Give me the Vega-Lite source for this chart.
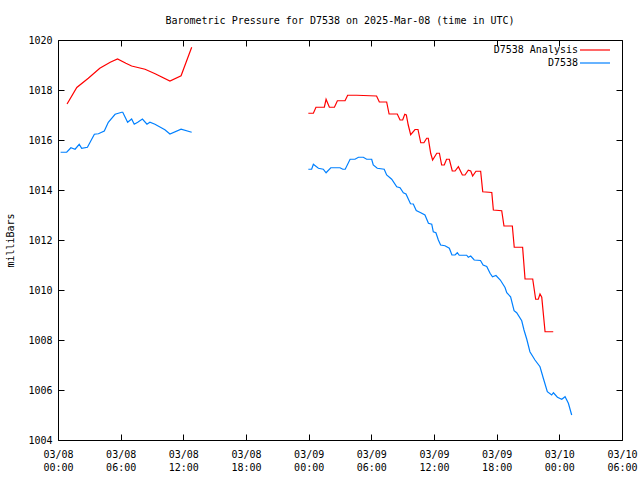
{
  "$schema": "https://vega.github.io/schema/vega-lite/v6.json",
  "width": 564,
  "height": 400,
  "autosize": {"type": "none"},
  "padding": {"left": 58, "top": 40, "right": 18, "bottom": 40},
  "background": "white",
  "title": {"text": "Barometric Pressure for D7538 on 2025-Mar-08 (time in UTC)", "font": "DejaVu Sans Mono", "fontSize": 10, "fontWeight": "normal", "color": "black", "offset": 9},
  "config": {
    "view": {"stroke": "black", "strokeWidth": 1},
    "axis": {"grid": false, "ticks": true, "tickOpacity": 1, "domainColor": "black", "tickColor": "black", "labelColor": "black", "labelFont": "DejaVu Sans Mono", "labelFontSize": 10, "titleFont": "DejaVu Sans Mono", "titleFontSize": 10, "titleFontWeight": "normal", "titleColor": "black", "domainWidth": 1, "tickWidth": 1}
  },
  "data": {"values": [
    {"series": "D7538 Analysis", "part": 1, "time": "2025-03-08T00:52:00Z", "pressure": 1017.44},
    {"series": "D7538 Analysis", "part": 1, "time": "2025-03-08T01:48:00Z", "pressure": 1018.1},
    {"series": "D7538 Analysis", "part": 1, "time": "2025-03-08T02:54:00Z", "pressure": 1018.47},
    {"series": "D7538 Analysis", "part": 1, "time": "2025-03-08T04:00:00Z", "pressure": 1018.87},
    {"series": "D7538 Analysis", "part": 1, "time": "2025-03-08T05:00:00Z", "pressure": 1019.11},
    {"series": "D7538 Analysis", "part": 1, "time": "2025-03-08T05:42:00Z", "pressure": 1019.24},
    {"series": "D7538 Analysis", "part": 1, "time": "2025-03-08T06:30:00Z", "pressure": 1019.07},
    {"series": "D7538 Analysis", "part": 1, "time": "2025-03-08T07:03:00Z", "pressure": 1018.96},
    {"series": "D7538 Analysis", "part": 1, "time": "2025-03-08T08:20:00Z", "pressure": 1018.83},
    {"series": "D7538 Analysis", "part": 1, "time": "2025-03-08T09:18:00Z", "pressure": 1018.65},
    {"series": "D7538 Analysis", "part": 1, "time": "2025-03-08T10:43:00Z", "pressure": 1018.36},
    {"series": "D7538 Analysis", "part": 1, "time": "2025-03-08T11:47:00Z", "pressure": 1018.57},
    {"series": "D7538 Analysis", "part": 1, "time": "2025-03-08T12:48:00Z", "pressure": 1019.71},
    {"series": "D7538 Analysis", "part": 2, "time": "2025-03-08T23:58:00Z", "pressure": 1017.07},
    {"series": "D7538 Analysis", "part": 2, "time": "2025-03-09T00:27:00Z", "pressure": 1017.07},
    {"series": "D7538 Analysis", "part": 2, "time": "2025-03-09T00:42:00Z", "pressure": 1017.31},
    {"series": "D7538 Analysis", "part": 2, "time": "2025-03-09T01:30:00Z", "pressure": 1017.31},
    {"series": "D7538 Analysis", "part": 2, "time": "2025-03-09T01:40:00Z", "pressure": 1017.63},
    {"series": "D7538 Analysis", "part": 2, "time": "2025-03-09T01:59:00Z", "pressure": 1017.31},
    {"series": "D7538 Analysis", "part": 2, "time": "2025-03-09T02:28:00Z", "pressure": 1017.31},
    {"series": "D7538 Analysis", "part": 2, "time": "2025-03-09T02:45:00Z", "pressure": 1017.57},
    {"series": "D7538 Analysis", "part": 2, "time": "2025-03-09T03:29:00Z", "pressure": 1017.57},
    {"series": "D7538 Analysis", "part": 2, "time": "2025-03-09T03:44:00Z", "pressure": 1017.79},
    {"series": "D7538 Analysis", "part": 2, "time": "2025-03-09T04:36:00Z", "pressure": 1017.79},
    {"series": "D7538 Analysis", "part": 2, "time": "2025-03-09T06:30:00Z", "pressure": 1017.76},
    {"series": "D7538 Analysis", "part": 2, "time": "2025-03-09T06:46:00Z", "pressure": 1017.52},
    {"series": "D7538 Analysis", "part": 2, "time": "2025-03-09T07:28:00Z", "pressure": 1017.52},
    {"series": "D7538 Analysis", "part": 2, "time": "2025-03-09T07:42:00Z", "pressure": 1017.04},
    {"series": "D7538 Analysis", "part": 2, "time": "2025-03-09T08:29:00Z", "pressure": 1017.04},
    {"series": "D7538 Analysis", "part": 2, "time": "2025-03-09T08:45:00Z", "pressure": 1016.8},
    {"series": "D7538 Analysis", "part": 2, "time": "2025-03-09T09:00:00Z", "pressure": 1016.8},
    {"series": "D7538 Analysis", "part": 2, "time": "2025-03-09T09:12:00Z", "pressure": 1017.03},
    {"series": "D7538 Analysis", "part": 2, "time": "2025-03-09T09:21:00Z", "pressure": 1017.0},
    {"series": "D7538 Analysis", "part": 2, "time": "2025-03-09T09:32:00Z", "pressure": 1016.6},
    {"series": "D7538 Analysis", "part": 2, "time": "2025-03-09T09:46:00Z", "pressure": 1016.21},
    {"series": "D7538 Analysis", "part": 2, "time": "2025-03-09T10:11:00Z", "pressure": 1016.42},
    {"series": "D7538 Analysis", "part": 2, "time": "2025-03-09T10:28:00Z", "pressure": 1016.42},
    {"series": "D7538 Analysis", "part": 2, "time": "2025-03-09T10:44:00Z", "pressure": 1015.89},
    {"series": "D7538 Analysis", "part": 2, "time": "2025-03-09T11:02:00Z", "pressure": 1015.89},
    {"series": "D7538 Analysis", "part": 2, "time": "2025-03-09T11:18:00Z", "pressure": 1016.07},
    {"series": "D7538 Analysis", "part": 2, "time": "2025-03-09T11:27:00Z", "pressure": 1016.07},
    {"series": "D7538 Analysis", "part": 2, "time": "2025-03-09T11:41:00Z", "pressure": 1015.47},
    {"series": "D7538 Analysis", "part": 2, "time": "2025-03-09T11:52:00Z", "pressure": 1015.2},
    {"series": "D7538 Analysis", "part": 2, "time": "2025-03-09T12:16:00Z", "pressure": 1015.47},
    {"series": "D7538 Analysis", "part": 2, "time": "2025-03-09T12:31:00Z", "pressure": 1015.47},
    {"series": "D7538 Analysis", "part": 2, "time": "2025-03-09T12:44:00Z", "pressure": 1015.0},
    {"series": "D7538 Analysis", "part": 2, "time": "2025-03-09T12:59:00Z", "pressure": 1015.0},
    {"series": "D7538 Analysis", "part": 2, "time": "2025-03-09T13:12:00Z", "pressure": 1015.23},
    {"series": "D7538 Analysis", "part": 2, "time": "2025-03-09T13:28:00Z", "pressure": 1015.23},
    {"series": "D7538 Analysis", "part": 2, "time": "2025-03-09T13:45:00Z", "pressure": 1014.76},
    {"series": "D7538 Analysis", "part": 2, "time": "2025-03-09T14:01:00Z", "pressure": 1014.76},
    {"series": "D7538 Analysis", "part": 2, "time": "2025-03-09T14:20:00Z", "pressure": 1014.93},
    {"series": "D7538 Analysis", "part": 2, "time": "2025-03-09T14:43:00Z", "pressure": 1014.6},
    {"series": "D7538 Analysis", "part": 2, "time": "2025-03-09T14:58:00Z", "pressure": 1014.6},
    {"series": "D7538 Analysis", "part": 2, "time": "2025-03-09T15:17:00Z", "pressure": 1014.79},
    {"series": "D7538 Analysis", "part": 2, "time": "2025-03-09T15:31:00Z", "pressure": 1014.76},
    {"series": "D7538 Analysis", "part": 2, "time": "2025-03-09T15:42:00Z", "pressure": 1014.56},
    {"series": "D7538 Analysis", "part": 2, "time": "2025-03-09T16:01:00Z", "pressure": 1014.75},
    {"series": "D7538 Analysis", "part": 2, "time": "2025-03-09T16:28:00Z", "pressure": 1014.75},
    {"series": "D7538 Analysis", "part": 2, "time": "2025-03-09T16:40:00Z", "pressure": 1013.93},
    {"series": "D7538 Analysis", "part": 2, "time": "2025-03-09T17:32:00Z", "pressure": 1013.9},
    {"series": "D7538 Analysis", "part": 2, "time": "2025-03-09T17:41:00Z", "pressure": 1013.2},
    {"series": "D7538 Analysis", "part": 2, "time": "2025-03-09T18:29:00Z", "pressure": 1013.17},
    {"series": "D7538 Analysis", "part": 2, "time": "2025-03-09T18:42:00Z", "pressure": 1012.56},
    {"series": "D7538 Analysis", "part": 2, "time": "2025-03-09T19:30:00Z", "pressure": 1012.56},
    {"series": "D7538 Analysis", "part": 2, "time": "2025-03-09T19:41:00Z", "pressure": 1011.71},
    {"series": "D7538 Analysis", "part": 2, "time": "2025-03-09T20:29:00Z", "pressure": 1011.71},
    {"series": "D7538 Analysis", "part": 2, "time": "2025-03-09T20:43:00Z", "pressure": 1010.44},
    {"series": "D7538 Analysis", "part": 2, "time": "2025-03-09T21:27:00Z", "pressure": 1010.44},
    {"series": "D7538 Analysis", "part": 2, "time": "2025-03-09T21:44:00Z", "pressure": 1009.63},
    {"series": "D7538 Analysis", "part": 2, "time": "2025-03-09T21:59:00Z", "pressure": 1009.63},
    {"series": "D7538 Analysis", "part": 2, "time": "2025-03-09T22:09:00Z", "pressure": 1009.84},
    {"series": "D7538 Analysis", "part": 2, "time": "2025-03-09T22:19:00Z", "pressure": 1009.71},
    {"series": "D7538 Analysis", "part": 2, "time": "2025-03-09T22:38:00Z", "pressure": 1008.33},
    {"series": "D7538 Analysis", "part": 2, "time": "2025-03-09T23:25:00Z", "pressure": 1008.33},
    {"series": "D7538", "part": 1, "time": "2025-03-08T00:15:00Z", "pressure": 1015.51},
    {"series": "D7538", "part": 1, "time": "2025-03-08T00:50:00Z", "pressure": 1015.51},
    {"series": "D7538", "part": 1, "time": "2025-03-08T01:14:00Z", "pressure": 1015.69},
    {"series": "D7538", "part": 1, "time": "2025-03-08T01:38:00Z", "pressure": 1015.63},
    {"series": "D7538", "part": 1, "time": "2025-03-08T02:02:00Z", "pressure": 1015.83},
    {"series": "D7538", "part": 1, "time": "2025-03-08T02:16:00Z", "pressure": 1015.67},
    {"series": "D7538", "part": 1, "time": "2025-03-08T02:49:00Z", "pressure": 1015.71},
    {"series": "D7538", "part": 1, "time": "2025-03-08T03:29:00Z", "pressure": 1016.23},
    {"series": "D7538", "part": 1, "time": "2025-03-08T03:52:00Z", "pressure": 1016.25},
    {"series": "D7538", "part": 1, "time": "2025-03-08T04:26:00Z", "pressure": 1016.36},
    {"series": "D7538", "part": 1, "time": "2025-03-08T04:49:00Z", "pressure": 1016.71},
    {"series": "D7538", "part": 1, "time": "2025-03-08T05:28:00Z", "pressure": 1017.03},
    {"series": "D7538", "part": 1, "time": "2025-03-08T06:06:00Z", "pressure": 1017.11},
    {"series": "D7538", "part": 1, "time": "2025-03-08T06:12:00Z", "pressure": 1017.11},
    {"series": "D7538", "part": 1, "time": "2025-03-08T06:40:00Z", "pressure": 1016.71},
    {"series": "D7538", "part": 1, "time": "2025-03-08T07:03:00Z", "pressure": 1016.84},
    {"series": "D7538", "part": 1, "time": "2025-03-08T07:18:00Z", "pressure": 1016.63},
    {"series": "D7538", "part": 1, "time": "2025-03-08T07:38:00Z", "pressure": 1016.71},
    {"series": "D7538", "part": 1, "time": "2025-03-08T08:05:00Z", "pressure": 1016.84},
    {"series": "D7538", "part": 1, "time": "2025-03-08T08:31:00Z", "pressure": 1016.63},
    {"series": "D7538", "part": 1, "time": "2025-03-08T08:48:00Z", "pressure": 1016.71},
    {"series": "D7538", "part": 1, "time": "2025-03-08T09:17:00Z", "pressure": 1016.63},
    {"series": "D7538", "part": 1, "time": "2025-03-08T10:14:00Z", "pressure": 1016.41},
    {"series": "D7538", "part": 1, "time": "2025-03-08T10:43:00Z", "pressure": 1016.24},
    {"series": "D7538", "part": 1, "time": "2025-03-08T11:47:00Z", "pressure": 1016.43},
    {"series": "D7538", "part": 1, "time": "2025-03-08T12:48:00Z", "pressure": 1016.31},
    {"series": "D7538", "part": 2, "time": "2025-03-08T23:58:00Z", "pressure": 1014.83},
    {"series": "D7538", "part": 2, "time": "2025-03-09T00:17:00Z", "pressure": 1014.83},
    {"series": "D7538", "part": 2, "time": "2025-03-09T00:27:00Z", "pressure": 1015.03},
    {"series": "D7538", "part": 2, "time": "2025-03-09T00:56:00Z", "pressure": 1014.87},
    {"series": "D7538", "part": 2, "time": "2025-03-09T01:24:00Z", "pressure": 1014.83},
    {"series": "D7538", "part": 2, "time": "2025-03-09T01:40:00Z", "pressure": 1014.69},
    {"series": "D7538", "part": 2, "time": "2025-03-09T02:07:00Z", "pressure": 1014.89},
    {"series": "D7538", "part": 2, "time": "2025-03-09T03:00:00Z", "pressure": 1014.89},
    {"series": "D7538", "part": 2, "time": "2025-03-09T03:16:00Z", "pressure": 1014.83},
    {"series": "D7538", "part": 2, "time": "2025-03-09T03:30:00Z", "pressure": 1014.83},
    {"series": "D7538", "part": 2, "time": "2025-03-09T03:58:00Z", "pressure": 1015.23},
    {"series": "D7538", "part": 2, "time": "2025-03-09T04:26:00Z", "pressure": 1015.23},
    {"series": "D7538", "part": 2, "time": "2025-03-09T04:46:00Z", "pressure": 1015.31},
    {"series": "D7538", "part": 2, "time": "2025-03-09T05:14:00Z", "pressure": 1015.31},
    {"series": "D7538", "part": 2, "time": "2025-03-09T05:33:00Z", "pressure": 1015.23},
    {"series": "D7538", "part": 2, "time": "2025-03-09T06:02:00Z", "pressure": 1015.23},
    {"series": "D7538", "part": 2, "time": "2025-03-09T06:11:00Z", "pressure": 1015.0},
    {"series": "D7538", "part": 2, "time": "2025-03-09T06:34:00Z", "pressure": 1014.87},
    {"series": "D7538", "part": 2, "time": "2025-03-09T07:14:00Z", "pressure": 1014.83},
    {"series": "D7538", "part": 2, "time": "2025-03-09T07:28:00Z", "pressure": 1014.6},
    {"series": "D7538", "part": 2, "time": "2025-03-09T07:57:00Z", "pressure": 1014.43},
    {"series": "D7538", "part": 2, "time": "2025-03-09T08:26:00Z", "pressure": 1014.13},
    {"series": "D7538", "part": 2, "time": "2025-03-09T08:45:00Z", "pressure": 1014.09},
    {"series": "D7538", "part": 2, "time": "2025-03-09T09:04:00Z", "pressure": 1013.89},
    {"series": "D7538", "part": 2, "time": "2025-03-09T09:19:00Z", "pressure": 1013.84},
    {"series": "D7538", "part": 2, "time": "2025-03-09T09:45:00Z", "pressure": 1013.45},
    {"series": "D7538", "part": 2, "time": "2025-03-09T10:01:00Z", "pressure": 1013.44},
    {"series": "D7538", "part": 2, "time": "2025-03-09T10:18:00Z", "pressure": 1013.18},
    {"series": "D7538", "part": 2, "time": "2025-03-09T10:44:00Z", "pressure": 1013.09},
    {"series": "D7538", "part": 2, "time": "2025-03-09T11:08:00Z", "pressure": 1013.0},
    {"series": "D7538", "part": 2, "time": "2025-03-09T11:28:00Z", "pressure": 1012.67},
    {"series": "D7538", "part": 2, "time": "2025-03-09T11:47:00Z", "pressure": 1012.63},
    {"series": "D7538", "part": 2, "time": "2025-03-09T11:56:00Z", "pressure": 1012.33},
    {"series": "D7538", "part": 2, "time": "2025-03-09T12:11:00Z", "pressure": 1012.29},
    {"series": "D7538", "part": 2, "time": "2025-03-09T12:25:00Z", "pressure": 1012.0},
    {"series": "D7538", "part": 2, "time": "2025-03-09T12:38:00Z", "pressure": 1011.8},
    {"series": "D7538", "part": 2, "time": "2025-03-09T13:03:00Z", "pressure": 1011.77},
    {"series": "D7538", "part": 2, "time": "2025-03-09T13:28:00Z", "pressure": 1011.67},
    {"series": "D7538", "part": 2, "time": "2025-03-09T13:43:00Z", "pressure": 1011.4},
    {"series": "D7538", "part": 2, "time": "2025-03-09T14:01:00Z", "pressure": 1011.4},
    {"series": "D7538", "part": 2, "time": "2025-03-09T14:14:00Z", "pressure": 1011.49},
    {"series": "D7538", "part": 2, "time": "2025-03-09T14:25:00Z", "pressure": 1011.39},
    {"series": "D7538", "part": 2, "time": "2025-03-09T15:08:00Z", "pressure": 1011.39},
    {"series": "D7538", "part": 2, "time": "2025-03-09T15:17:00Z", "pressure": 1011.31},
    {"series": "D7538", "part": 2, "time": "2025-03-09T15:31:00Z", "pressure": 1011.36},
    {"series": "D7538", "part": 2, "time": "2025-03-09T15:51:00Z", "pressure": 1011.2},
    {"series": "D7538", "part": 2, "time": "2025-03-09T16:27:00Z", "pressure": 1011.18},
    {"series": "D7538", "part": 2, "time": "2025-03-09T16:42:00Z", "pressure": 1011.0},
    {"series": "D7538", "part": 2, "time": "2025-03-09T17:03:00Z", "pressure": 1010.94},
    {"series": "D7538", "part": 2, "time": "2025-03-09T17:22:00Z", "pressure": 1010.67},
    {"series": "D7538", "part": 2, "time": "2025-03-09T17:36:00Z", "pressure": 1010.53},
    {"series": "D7538", "part": 2, "time": "2025-03-09T17:56:00Z", "pressure": 1010.58},
    {"series": "D7538", "part": 2, "time": "2025-03-09T18:21:00Z", "pressure": 1010.4},
    {"series": "D7538", "part": 2, "time": "2025-03-09T18:48:00Z", "pressure": 1010.1},
    {"series": "D7538", "part": 2, "time": "2025-03-09T18:58:00Z", "pressure": 1009.89},
    {"series": "D7538", "part": 2, "time": "2025-03-09T19:20:00Z", "pressure": 1009.73},
    {"series": "D7538", "part": 2, "time": "2025-03-09T19:40:00Z", "pressure": 1009.17},
    {"series": "D7538", "part": 2, "time": "2025-03-09T19:55:00Z", "pressure": 1009.09},
    {"series": "D7538", "part": 2, "time": "2025-03-09T20:24:00Z", "pressure": 1008.77},
    {"series": "D7538", "part": 2, "time": "2025-03-09T20:37:00Z", "pressure": 1008.4},
    {"series": "D7538", "part": 2, "time": "2025-03-09T20:53:00Z", "pressure": 1008.03},
    {"series": "D7538", "part": 2, "time": "2025-03-09T21:11:00Z", "pressure": 1007.53},
    {"series": "D7538", "part": 2, "time": "2025-03-09T21:40:00Z", "pressure": 1007.2},
    {"series": "D7538", "part": 2, "time": "2025-03-09T22:09:00Z", "pressure": 1006.93},
    {"series": "D7538", "part": 2, "time": "2025-03-09T22:28:00Z", "pressure": 1006.47},
    {"series": "D7538", "part": 2, "time": "2025-03-09T22:51:00Z", "pressure": 1005.93},
    {"series": "D7538", "part": 2, "time": "2025-03-09T23:16:00Z", "pressure": 1005.8},
    {"series": "D7538", "part": 2, "time": "2025-03-09T23:26:00Z", "pressure": 1005.89},
    {"series": "D7538", "part": 2, "time": "2025-03-09T23:49:00Z", "pressure": 1005.71},
    {"series": "D7538", "part": 2, "time": "2025-03-10T00:14:00Z", "pressure": 1005.63},
    {"series": "D7538", "part": 2, "time": "2025-03-10T00:33:00Z", "pressure": 1005.73},
    {"series": "D7538", "part": 2, "time": "2025-03-10T00:52:00Z", "pressure": 1005.47},
    {"series": "D7538", "part": 2, "time": "2025-03-10T01:11:00Z", "pressure": 1005.0}
  ]},
  "layer": [
    {
      "mark": {"type": "line", "strokeWidth": 1.2},
      "encoding": {
        "x": {"field": "time", "type": "temporal",
          "scale": {"type": "utc", "domain": [1741392000000, 1741586400000], "nice": false},
          "axis": {"orient": "bottom", "title": null, "domain": false, "offset": -6, "ticks": true,
            "values": [1741392000000, 1741413600000, 1741435200000, 1741456800000, 1741478400000, 1741500000000, 1741521600000, 1741543200000, 1741564800000, 1741586400000],
            "labelExpr": "[utcFormat(datum.value, '%m/%d'), utcFormat(datum.value, '%H:%M')]",
            "tickSize": 6, "labelPadding": 9, "labelLineHeight": 13, "labelOverlap": false, "labelFlush": false, "labelBaseline": "top"}},
        "y": {"field": "pressure", "type": "quantitative",
          "scale": {"domain": [1004, 1020], "nice": false, "zero": false},
          "axis": {"orient": "left", "domain": false, "offset": -6, "ticks": true, "values": [1004, 1006, 1008, 1010, 1012, 1014, 1016, 1018, 1020], "format": "d", "tickSize": 6, "labelPadding": 6, "title": "milliBars", "titlePadding": 12}},
        "color": {"field": "series", "type": "nominal",
          "scale": {"domain": ["D7538 Analysis", "D7538"], "range": ["#ff0000", "#0080ff"]},
          "legend": {"title": null, "orient": "none", "legendX": 532, "legendY": 5, "symbolType": "M-5,0H5", "symbolSize": 36, "symbolStrokeWidth": 1.2, "labelAlign": "right", "labelOffset": -22, "labelFont": "DejaVu Sans Mono", "labelFontSize": 10, "labelColor": "black", "rowPadding": 3, "padding": 0}},
        "detail": {"field": "part"}
      }
    },
    {
      "mark": {"type": "line", "opacity": 0},
      "encoding": {
        "x": {"field": "time", "type": "temporal",
          "axis": {"orient": "top", "title": null, "labels": false, "domain": false, "offset": -6, "ticks": true,
            "values": [1741392000000, 1741413600000, 1741435200000, 1741456800000, 1741478400000, 1741500000000, 1741521600000, 1741543200000, 1741564800000, 1741586400000],
            "tickSize": 6}},
        "y": {"field": "pressure", "type": "quantitative",
          "axis": {"orient": "right", "title": null, "labels": false, "domain": false, "offset": -6, "ticks": true, "values": [1004, 1006, 1008, 1010, 1012, 1014, 1016, 1018, 1020], "tickSize": 6}}
      }
    }
  ],
  "resolve": {"axis": {"x": "independent", "y": "independent"}}
}
